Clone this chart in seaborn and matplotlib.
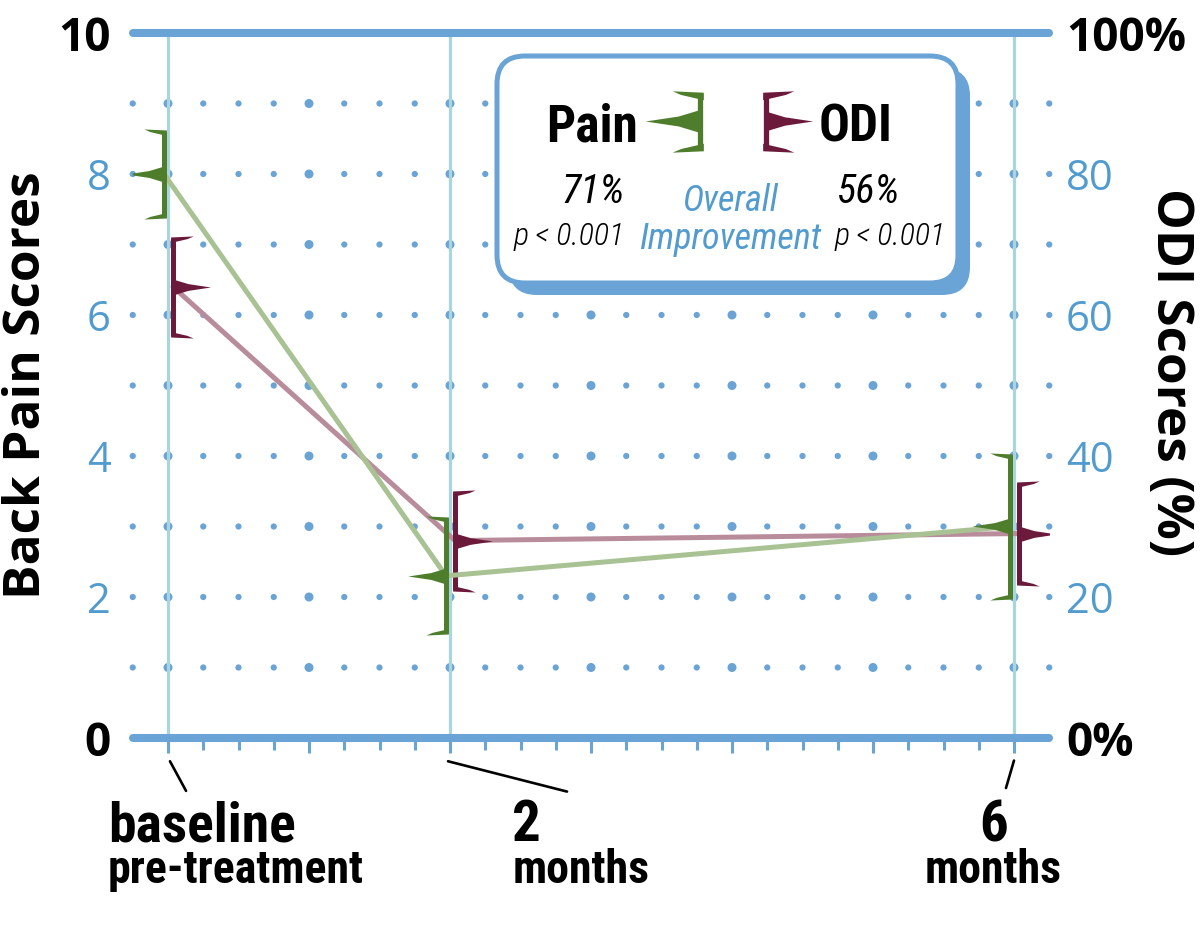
import numpy as np
import pandas as pd
import matplotlib
matplotlib.use("Agg")
import matplotlib.pyplot as plt
import seaborn as sns
from matplotlib import font_manager
from matplotlib.path import Path
from matplotlib.patches import FancyBboxPatch
from matplotlib.transforms import offset_copy

# data
months = [0, 2, 6]
pain_mean = [8.0, 2.3, 3.0]
pain_err = [0.6, 0.8, 1.0]
odi_mean = [64, 28, 29]
odi_err = [6.8, 6.8, 7.0]

left_ticks = [0, 2, 4, 6, 8, 10]
left_labels = ["0", "2", "4", "6", "8", "10"]
right_ticks = [0, 20, 40, 60, 80, 100]
right_labels = ["0%", "20", "40", "60", "80", "100%"]
x_main = ["baseline", "2", "6"]
x_sub = ["pre-treatment", "months", "months"]
pain_improve = "71%"
odi_improve = "56%"
p_text = "p < 0.001"

# colours
blue = "#6aa3d5"
blue_text = "#519bcf"
vline_c = "#a9d6de"
green = "#4e7d2b"
green_line = "#a9c294"
maroon = "#6b1a3c"
maroon_line = "#b98c9c"

sns.set_style("white")
names = {f.name for f in font_manager.fontManager.ttflist}
cond, stretch = "Roboto", "normal"
for cand in ["Liberation Sans Narrow", "Roboto Condensed", "Open Sans Condensed"]:
    if cand in names:
        cond = cand
        break
else:
    if any("DejaVuSansCondensed" in f.fname for f in font_manager.fontManager.ttflist):
        cond, stretch = "DejaVu Sans", "condensed"
plt.rcParams["font.family"] = ["Open Sans", "DejaVu Sans"]
plt.rcParams["text.color"] = "black"


def poly(pts):
    pts = list(pts) + [pts[0]]
    return Path(pts, closed=True)


def mirror(path, sx=1, sy=1):
    v = path.vertices * np.array([sx, sy])
    return Path(v, path.codes)


flag_left = poly([(0, 0.21), (-0.4, 0.09), (-1, 0), (-0.4, -0.09), (0, -0.21)])
cap_top_left = poly([(0.12, 0.1), (-1, 0.15), (-0.7, 0.02), (0.12, -0.17)])
flag_right = mirror(flag_left, sx=-1)
cap_top_right = mirror(cap_top_left, sx=-1)
cap_bot_left = mirror(cap_top_left, sy=-1)
cap_bot_right = mirror(cap_top_right, sy=-1)

fig = plt.figure(figsize=(12, 9.36), dpi=100)
ax = fig.add_axes([132.75 / 1200, 198 / 936, (1049.25 - 132.75) / 1200, 705 / 936])
ax.set_xlim(-0.25, 6.25)
ax.set_ylim(0, 10)
for s in ax.spines.values():
    s.set_visible(False)

# dotted grid
gx, gy = np.meshgrid(np.arange(-0.25, 6.26, 0.25), np.arange(1, 10))
dots = pd.DataFrame({"x": gx.ravel(), "y": gy.ravel()})
dots["kind"] = np.where(np.isclose(dots["x"] % 1, 0), "major", "minor")
sns.scatterplot(data=dots, x="x", y="y", size="kind", sizes={"major": 42, "minor": 20},
                color=blue, linewidth=0, legend=False, ax=ax, clip_on=False, zorder=1)

for m in months:
    ax.axvline(m, color=vline_c, lw=2.3, zorder=2)
for yv in (0, 10):
    ax.axhline(yv, color=blue, lw=5.8, solid_capstyle="round", clip_on=False, zorder=3)

ax.set_xticks(range(0, 7))
ax.set_xticks(np.arange(0, 6.01, 0.25), minor=True)
ax.tick_params(axis="x", which="both", bottom=True, direction="out", color=blue,
               width=2.2, labelbottom=False)
ax.tick_params(axis="x", which="major", length=10.8)
ax.tick_params(axis="x", which="minor", length=8.6)
ax.set_yticks(left_ticks, left_labels)
ax.tick_params(axis="y", left=False, length=0, pad=16)
for lbl, v in zip(ax.get_yticklabels(), left_ticks):
    if v in (0, 10):
        lbl.set(fontsize=33, fontweight="bold", color="black")
    else:
        lbl.set(fontsize=30, color=blue_text)
ax.set_xlabel("")
ax.set_ylabel("")

# ODI axis (right)
axO = ax.twinx()
axO.set_ylim(0, 100)
axO.patch.set_visible(False)
for s in axO.spines.values():
    s.set_visible(False)
axO.set_yticks(right_ticks, right_labels)
axO.tick_params(axis="y", right=False, length=0, pad=12)
for lbl, v in zip(axO.get_yticklabels(), right_ticks):
    if v in (0, 100):
        lbl.set(fontsize=33, fontweight="bold", color="black")
    else:
        lbl.set(fontsize=30, color=blue_text)

# Pain axis (on top)
axP = ax.twinx()
axP.set_ylim(0, 10)
axP.set_axis_off()

df = pd.DataFrame({"month": months, "pain": pain_mean, "odi": odi_mean})
sns.lineplot(data=df, x="month", y="odi", ax=axO, color=maroon_line, lw=3.6)
sns.lineplot(data=df, x="month", y="pain", ax=axP, color=green_line, lw=3.6)
axO.set_ylabel("")
ax.set_xlabel("")

tr_p = offset_copy(axP.transData, fig=fig, x=-4, y=0, units="dots")
tr_o = offset_copy(axO.transData, fig=fig, x=5, y=0, units="dots")
axP.lines[-1].set_transform(tr_p)
axO.lines[-1].set_transform(tr_o)

p_hi = np.add(pain_mean, pain_err)
p_lo = np.subtract(pain_mean, pain_err)
o_hi = np.add(odi_mean, odi_err)
o_lo = np.subtract(odi_mean, odi_err)

axP.vlines(months, p_lo, p_hi, color=green, lw=3.6, transform=tr_p)
axP.plot(months, p_hi, ls="none", marker=cap_top_left, ms=29, color=green, mew=0, transform=tr_p)
axP.plot(months, p_lo, ls="none", marker=cap_bot_left, ms=29, color=green, mew=0, transform=tr_p)
axP.plot(months, pain_mean, ls="none", marker=flag_left, ms=55, color=green, mew=0, transform=tr_p)

axO.vlines(months, o_lo, o_hi, color=maroon, lw=3.6, transform=tr_o)
axO.plot(months, o_hi, ls="none", marker=cap_top_right, ms=29, color=maroon, mew=0, transform=tr_o)
axO.plot(months, o_lo, ls="none", marker=cap_bot_right, ms=29, color=maroon, mew=0, transform=tr_o)
axO.plot(months, odi_mean, ls="none", marker=flag_right, ms=54, color=maroon, mew=0, transform=tr_o)

# leader lines from ticks to labels
leaders = [((0.014, -0.33), (0.128, -0.75)),
           ((1.986, -0.33), (2.83, -0.76)),
           ((6.0, -0.32), (5.943, -0.71))]
for (x0, y0), (x1, y1) in leaders:
    ax.annotate("", xy=(x0, y0), xytext=(x1, y1), annotation_clip=False,
                arrowprops=dict(arrowstyle="-", color="black", lw=1.9, shrinkA=0, shrinkB=0))

# overlay in pixel coordinates for free text and the legend box
ov = fig.add_axes([0, 0, 1, 1], zorder=10)
ov.set_xlim(0, 1200)
ov.set_ylim(936, 0)
ov.set_axis_off()

ck = dict(family=cond, fontstretch=stretch)

ov.text(27, 385, "Back Pain Scores", rotation=90, ha="center", va="center",
        fontsize=37, fontweight="bold")
ov.text(1170, 372, "ODI Scores (%)", rotation=-90, ha="center", va="center",
        fontsize=37, fontweight="bold")

ov.text(108, 841, x_main[0], ha="left", va="baseline", fontsize=40, fontweight="bold", **ck)
ov.text(108, 883, x_sub[0], ha="left", va="baseline", fontsize=33, fontweight="bold", **ck)
ov.text(512, 841, x_main[1], ha="left", va="baseline", fontsize=41, fontweight="bold", **ck)
ov.text(513, 883, x_sub[1], ha="left", va="baseline", fontsize=33, fontweight="bold", **ck)
ov.text(994, 841, x_main[2], ha="center", va="baseline", fontsize=41, fontweight="bold", **ck)
ov.text(993, 883, x_sub[2], ha="center", va="baseline", fontsize=33, fontweight="bold", **ck)

# legend box with offset shadow
ov.add_patch(FancyBboxPatch((509, 68), 461, 227, boxstyle="round,pad=0,rounding_size=28",
                            fc=blue, ec="none"))
ov.add_patch(FancyBboxPatch((497, 56), 461, 227, boxstyle="round,pad=0,rounding_size=28",
                            fc="white", ec=blue, lw=3.6))

ov.text(592, 141, "Pain", ha="center", va="baseline", fontsize=37, fontweight="bold", **ck)
ov.text(856, 141, "ODI", ha="center", va="baseline", fontsize=37, fontweight="bold", **ck)
ov.vlines([700], 95, 148, color=green, lw=3.8)
ov.plot([700], [95], marker=cap_top_left, ms=40, color=green, mew=0)
ov.plot([700], [148], marker=cap_bot_left, ms=40, color=green, mew=0)
ov.plot([700], [121], marker=flag_left, ms=79, color=green, mew=0)
ov.vlines([766], 95, 148, color=maroon, lw=3.8)
ov.plot([766], [95], marker=cap_top_right, ms=40, color=maroon, mew=0)
ov.plot([766], [148], marker=cap_bot_right, ms=40, color=maroon, mew=0)
ov.plot([766], [121], marker=flag_right, ms=67, color=maroon, mew=0)

ov.text(625, 203, pain_improve, ha="right", va="baseline", fontsize=29, style="italic", **ck)
ov.text(625, 245, p_text, ha="right", va="baseline", fontsize=23, style="italic",
        fontweight="light", **ck)
ov.text(837, 203, odi_improve, ha="left", va="baseline", fontsize=29, style="italic", **ck)
ov.text(835, 245, p_text, ha="left", va="baseline", fontsize=23, style="italic",
        fontweight="light", **ck)
ov.text(730, 211, "Overall", ha="center", va="baseline", fontsize=26, style="italic",
        color=blue_text, **ck)
ov.text(730, 249, "Improvement", ha="center", va="baseline", fontsize=26, style="italic",
        color=blue_text, **ck)

fig.savefig("out.png", dpi=100)
